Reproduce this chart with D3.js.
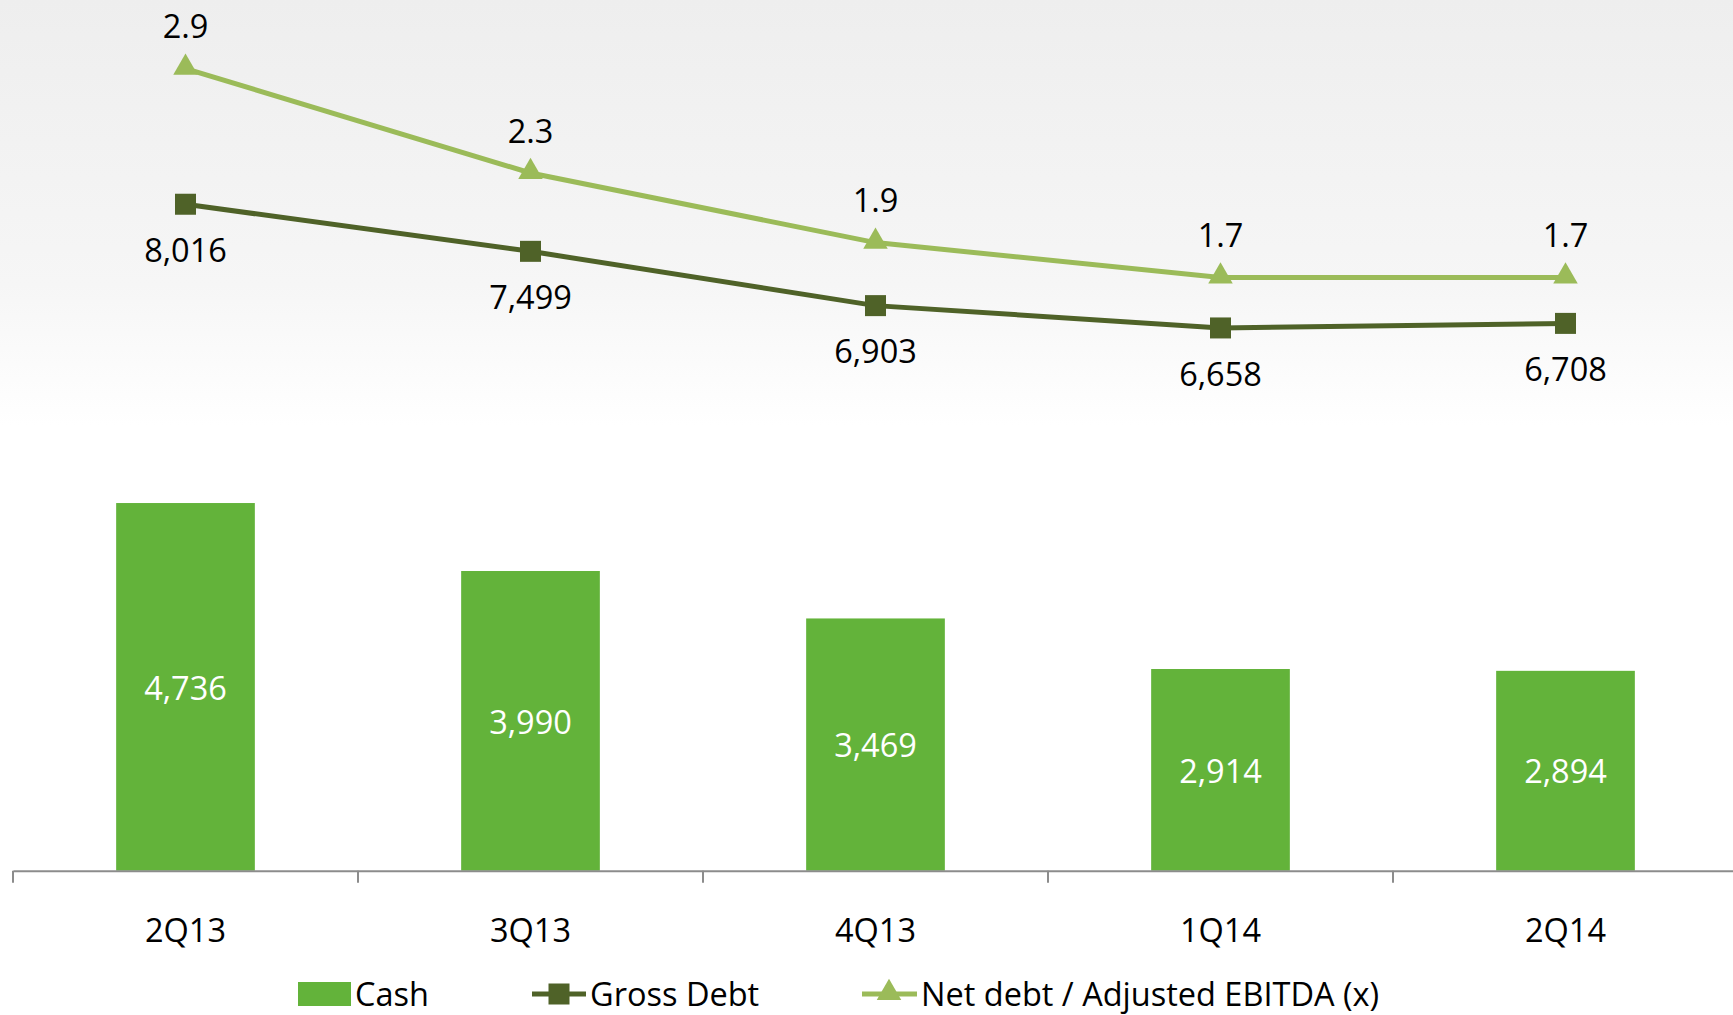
<!DOCTYPE html>
<html>
<head>
<meta charset="utf-8">
<script src="https://cdnjs.cloudflare.com/ajax/libs/d3/7.8.5/d3.min.js"></script>
<style>
  body { margin: 0; background: #fff; }
  svg { display: block; font-family: "Open Sans", "Noto Sans", sans-serif; }
</style>
</head>
<body>
<div class="container"></div>
<script>
// Chart data
const quarters = ['2Q13', '3Q13', '4Q13', '1Q14', '2Q14'];
const cash = [4736, 3990, 3469, 2914, 2894];
const grossDebt = [8016, 7499, 6903, 6658, 6708];
const netDebtRatio = [2.9, 2.3, 1.9, 1.7, 1.7];
const seriesNames = ['Cash', 'Gross Debt', 'Net debt / Adjusted EBITDA (x)'];

const fmt = d3.format(',');
const fmt1 = d3.format('.1f');

const width = 1733;
const height = 1015;
const fontSize = 32.5;

const colors = {
    cash: '#63b33a',
    gross: '#4f6228',
    net: '#9bbb59',
    axis: '#8c8c8c'
};

const svg = d3.select('.container')
    .append('svg')
    .attr('width', width)
    .attr('height', height);

// soft gray background fading to white
const defs = svg.append('defs');
const grad = defs.append('linearGradient')
    .attr('id', 'bg')
    .attr('x1', 0).attr('y1', 0).attr('x2', 0).attr('y2', 1);
grad.append('stop').attr('offset', '0%').attr('stop-color', '#eeeeee');
grad.append('stop').attr('offset', '28%').attr('stop-color', '#f6f6f6');
grad.append('stop').attr('offset', '42%').attr('stop-color', '#ffffff');
grad.append('stop').attr('offset', '100%').attr('stop-color', '#ffffff');
svg.append('rect')
    .attr('width', width)
    .attr('height', height)
    .attr('fill', 'url(#bg)');

// scales
const x = d3.scaleBand().domain(quarters).range([13, 1738]);
const cx = d => x(d) + x.bandwidth() / 2;
const barWidth = x.bandwidth() * 0.402;

const y = d3.scaleLinear().domain([700, 9000]).range([870.7, 114.6]);
const y2 = d3.scaleLinear().domain([0, 3]).range([573.2, 51.2]);

// bars
svg.selectAll('rect.bar')
    .data(cash)
    .enter()
    .append('rect')
    .attr('class', 'bar')
    .attr('x', (d, i) => cx(quarters[i]) - barWidth / 2)
    .attr('y', d => y(d))
    .attr('width', barWidth)
    .attr('height', d => y(700) - y(d))
    .attr('fill', colors.cash);

svg.selectAll('text.bar-label')
    .data(cash)
    .enter()
    .append('text')
    .attr('class', 'bar-label')
    .attr('x', (d, i) => cx(quarters[i]))
    .attr('y', d => (y(d) + y(700)) / 2 + 1)
    .attr('dy', '0.36em')
    .attr('text-anchor', 'middle')
    .attr('fill', '#ffffff')
    .style('font-size', fontSize + 'px')
    .text(d => fmt(d));

// x axis
const xAxis = d3.axisBottom(x).tickSize(0).tickPadding(0);
const gx = svg.append('g')
    .attr('id', 'x-axis')
    .attr('transform', `translate(0, ${y(700)})`)
    .call(xAxis);
gx.select('.domain').attr('stroke', colors.axis).attr('stroke-width', 2);
gx.selectAll('.tick text')
    .attr('y', 60)
    .attr('dy', '0.36em')
    .attr('fill', '#000')
    .style('font-size', fontSize + 'px')
    .style('font-family', 'Open Sans');
gx.selectAll('line.sep')
    .data(quarters)
    .enter()
    .append('line')
    .attr('class', 'sep')
    .attr('x1', d => x(d)).attr('x2', d => x(d))
    .attr('y1', 0).attr('y2', 12)
    .attr('stroke', colors.axis)
    .attr('stroke-width', 2);

// gross debt line
const grossLine = d3.line()
    .x((d, i) => cx(quarters[i]))
    .y(d => y(d));
svg.append('path')
    .datum(grossDebt)
    .attr('d', grossLine)
    .attr('fill', 'none')
    .attr('stroke', colors.gross)
    .attr('stroke-width', 5);
svg.selectAll('rect.gross-pt')
    .data(grossDebt)
    .enter()
    .append('rect')
    .attr('class', 'gross-pt')
    .attr('x', (d, i) => cx(quarters[i]) - 10.5)
    .attr('y', d => y(d) - 10.5)
    .attr('width', 21)
    .attr('height', 21)
    .attr('fill', colors.gross);
svg.selectAll('text.gross-label')
    .data(grossDebt)
    .enter()
    .append('text')
    .attr('class', 'gross-label')
    .attr('x', (d, i) => cx(quarters[i]))
    .attr('y', d => y(d) + 46)
    .attr('dy', '0.36em')
    .attr('text-anchor', 'middle')
    .style('font-size', fontSize + 'px')
    .text(d => fmt(d));

// net debt / EBITDA line
const netLine = d3.line()
    .x((d, i) => cx(quarters[i]))
    .y(d => y2(d));
svg.append('path')
    .datum(netDebtRatio)
    .attr('d', netLine)
    .attr('fill', 'none')
    .attr('stroke', colors.net)
    .attr('stroke-width', 5);
const tri = d3.symbol().type(d3.symbolTriangle).size(260);
svg.selectAll('path.net-pt')
    .data(netDebtRatio)
    .enter()
    .append('path')
    .attr('class', 'net-pt')
    .attr('d', tri)
    .attr('transform', (d, i) => `translate(${cx(quarters[i])}, ${y2(d) - 1})`)
    .attr('fill', colors.net);
svg.selectAll('text.net-label')
    .data(netDebtRatio)
    .enter()
    .append('text')
    .attr('class', 'net-label')
    .attr('x', (d, i) => cx(quarters[i]))
    .attr('y', d => y2(d) - 42)
    .attr('dy', '0.36em')
    .attr('text-anchor', 'middle')
    .style('font-size', fontSize + 'px')
    .text(d => fmt1(d));

// legend
const legendY = 994;
const legend = svg.append('g').attr('id', 'legend');

legend.append('rect')
    .attr('x', 298).attr('y', legendY - 12)
    .attr('width', 53).attr('height', 24)
    .attr('fill', colors.cash);
legend.append('text')
    .attr('x', 355).attr('y', legendY).attr('dy', '0.36em')
    .style('font-size', fontSize + 'px')
    .text(seriesNames[0]);

legend.append('line')
    .attr('x1', 532).attr('x2', 586)
    .attr('y1', legendY).attr('y2', legendY)
    .attr('stroke', colors.gross).attr('stroke-width', 5);
legend.append('rect')
    .attr('x', 559 - 10.5).attr('y', legendY - 10.5)
    .attr('width', 21).attr('height', 21)
    .attr('fill', colors.gross);
legend.append('text')
    .attr('x', 590).attr('y', legendY).attr('dy', '0.36em')
    .style('font-size', fontSize + 'px')
    .text(seriesNames[1]);

legend.append('line')
    .attr('x1', 862).attr('x2', 917)
    .attr('y1', legendY).attr('y2', legendY)
    .attr('stroke', colors.net).attr('stroke-width', 5);
legend.append('path')
    .attr('d', tri)
    .attr('transform', `translate(889, ${legendY - 1})`)
    .attr('fill', colors.net);
legend.append('text')
    .attr('x', 921).attr('y', legendY).attr('dy', '0.36em')
    .style('font-size', fontSize + 'px')
    .text(seriesNames[2]);
</script>
</body>
</html>
